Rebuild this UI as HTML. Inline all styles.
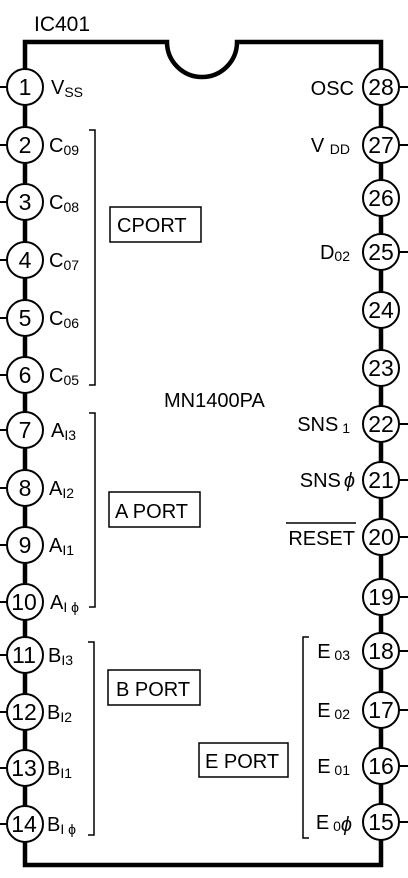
<!DOCTYPE html>
<html><head><meta charset="utf-8"><style>
html,body{margin:0;padding:0;background:#fff;}
svg{display:block;}
text{font-family:"Liberation Sans",sans-serif;fill:#000;}
.n{font-size:23px;text-anchor:middle;}
.l{font-size:20px;}
.s{font-size:14px;}
.b{font-size:20px;}
</style></head><body>
<svg width="408" height="878" viewBox="0 0 408 878" xmlns="http://www.w3.org/2000/svg">
<text x="34" y="31" style="font-size:21px">IC401</text>
<path d="M25 865 V42 H167 A35 35 0 0 0 237 42 H381 V865 Z" fill="none" stroke="#000" stroke-width="4.5"/>
<g stroke="#000" stroke-width="2">
<line x1="0" y1="87" x2="7" y2="87"/><line x1="0" y1="145" x2="7" y2="145"/><line x1="0" y1="202" x2="7" y2="202"/><line x1="0" y1="260" x2="7" y2="260"/><line x1="0" y1="318" x2="7" y2="318"/><line x1="0" y1="375" x2="7" y2="375"/><line x1="0" y1="430" x2="7" y2="430"/><line x1="0" y1="488" x2="7" y2="488"/><line x1="0" y1="545" x2="7" y2="545"/><line x1="0" y1="602" x2="7" y2="602"/><line x1="0" y1="655" x2="7" y2="655"/><line x1="0" y1="712" x2="7" y2="712"/><line x1="0" y1="768" x2="7" y2="768"/><line x1="0" y1="824" x2="7" y2="824"/>
<line x1="399" y1="87" x2="408" y2="87"/><line x1="399" y1="145" x2="408" y2="145"/><line x1="399" y1="252" x2="408" y2="252"/><line x1="399" y1="424" x2="408" y2="424"/><line x1="399" y1="480" x2="408" y2="480"/><line x1="399" y1="537" x2="408" y2="537"/><line x1="399" y1="597" x2="408" y2="597"/><line x1="399" y1="651" x2="408" y2="651"/><line x1="399" y1="710" x2="408" y2="710"/><line x1="399" y1="766" x2="408" y2="766"/><line x1="399" y1="822" x2="408" y2="822"/>
</g>
<g fill="#fff" stroke="#000" stroke-width="2">
<circle cx="25" cy="87" r="18"/><circle cx="25" cy="145" r="18"/><circle cx="25" cy="202" r="18"/><circle cx="25" cy="260" r="18"/><circle cx="25" cy="318" r="18"/><circle cx="25" cy="375" r="18"/><circle cx="25" cy="430" r="18"/><circle cx="25" cy="488" r="18"/><circle cx="25" cy="545" r="18"/><circle cx="25" cy="602" r="18"/><circle cx="25" cy="655" r="18"/><circle cx="25" cy="712" r="18"/><circle cx="25" cy="768" r="18"/><circle cx="25" cy="824" r="18"/>
<circle cx="381" cy="87" r="18"/><circle cx="381" cy="145" r="18"/><circle cx="381" cy="198" r="18"/><circle cx="381" cy="252" r="18"/><circle cx="381" cy="310" r="18"/><circle cx="381" cy="368" r="18"/><circle cx="381" cy="424" r="18"/><circle cx="381" cy="480" r="18"/><circle cx="381" cy="537" r="18"/><circle cx="381" cy="597" r="18"/><circle cx="381" cy="651" r="18"/><circle cx="381" cy="710" r="18"/><circle cx="381" cy="766" r="18"/><circle cx="381" cy="822" r="18"/>
</g>
<g class="n">
<text x="25" y="95" class="n">1</text><text x="25" y="153" class="n">2</text><text x="25" y="210" class="n">3</text><text x="25" y="268" class="n">4</text><text x="25" y="326" class="n">5</text><text x="25" y="383" class="n">6</text><text x="25" y="438" class="n">7</text><text x="25" y="496" class="n">8</text><text x="25" y="553" class="n">9</text><text x="24" y="610" class="n">10</text><text x="24" y="663" class="n">11</text><text x="24" y="720" class="n">12</text><text x="24" y="776" class="n">13</text><text x="24" y="832" class="n">14</text>
<text x="381" y="95" class="n">28</text><text x="381" y="153" class="n">27</text><text x="381" y="206" class="n">26</text><text x="381" y="260" class="n">25</text><text x="381" y="318" class="n">24</text><text x="381" y="376" class="n">23</text><text x="381" y="432" class="n">22</text><text x="381" y="488" class="n">21</text><text x="381" y="545" class="n">20</text><text x="381" y="605" class="n">19</text><text x="381" y="659" class="n">18</text><text x="381" y="718" class="n">17</text><text x="381" y="774" class="n">16</text><text x="381" y="830" class="n">15</text>
</g>
<text x="51" y="94" class="l">V<tspan class="s" dy="3">SS</tspan></text>
<text x="49" y="152" class="l">C<tspan class="s" dy="3">09</tspan></text>
<text x="49" y="209" class="l">C<tspan class="s" dy="3">08</tspan></text>
<text x="49" y="267" class="l">C<tspan class="s" dy="3">07</tspan></text>
<text x="49" y="325" class="l">C<tspan class="s" dy="3">06</tspan></text>
<text x="49" y="382" class="l">C<tspan class="s" dy="3">05</tspan></text>
<text x="51" y="437" class="l">A<tspan class="s" dy="3">I3</tspan></text>
<text x="49" y="495" class="l">A<tspan class="s" dy="3">I2</tspan></text>
<text x="49" y="552" class="l">A<tspan class="s" dy="3">I1</tspan></text>
<text x="50" y="609" class="l">A<tspan class="s" dy="3">I ϕ</tspan></text>
<text x="48" y="662" class="l">B<tspan class="s" dy="3">I3</tspan></text>
<text x="47" y="719" class="l">B<tspan class="s" dy="3">I2</tspan></text>
<text x="47" y="775" class="l">B<tspan class="s" dy="3">I1</tspan></text>
<text x="47" y="831" class="l">B<tspan class="s" dy="3">I ϕ</tspan></text>
<g style="text-anchor:end">
<text x="354" y="95" class="l">OSC</text>
<text x="350" y="152" class="l">V <tspan class="s" dy="2">DD</tspan></text>
<text x="350" y="259" class="l">D<tspan class="s" dy="2">02</tspan></text>
<text x="350" y="431" class="l">SNS<tspan class="s" dy="2"> 1</tspan></text>
<text x="355" y="487" class="l">SNS<tspan dx="3" font-style="italic">ϕ</tspan></text>
<text x="355" y="545" class="l">RESET</text>
<text x="350" y="658" class="l">E<tspan class="s" dy="2"> 03</tspan></text>
<text x="350" y="717" class="l">E<tspan class="s" dy="2"> 02</tspan></text>
<text x="350" y="773" class="l">E<tspan class="s" dy="2"> 01</tspan></text>
<text x="352" y="829" class="l">E<tspan class="s" dy="2"> 0</tspan><tspan font-style="italic">ϕ</tspan></text>
</g>
<line x1="286" y1="523" x2="356" y2="523" stroke="#000" stroke-width="1.5"/>
<text x="164" y="407" style="font-size:20px">MN1400PA</text>
<g fill="none" stroke="#000" stroke-width="1.5">
<path d="M89 130 H95 V385 H89"/>
<path d="M89 413 H95 V607 H89"/>
<path d="M88 642 H94 V835 H88"/>
<path d="M309 637 H303 V838 H309"/>
<rect x="110" y="207" width="91" height="35"/>
<rect x="109" y="492" width="91" height="35"/>
<rect x="108" y="670" width="92" height="35"/>
<rect x="199" y="743" width="89" height="34"/>
</g>
<text x="117" y="232" class="b">CPORT</text>
<text x="115" y="518" class="b">A PORT</text>
<text x="116" y="696" class="b">B PORT</text>
<text x="205" y="768" class="b">E PORT</text>
</svg>
</body></html>
